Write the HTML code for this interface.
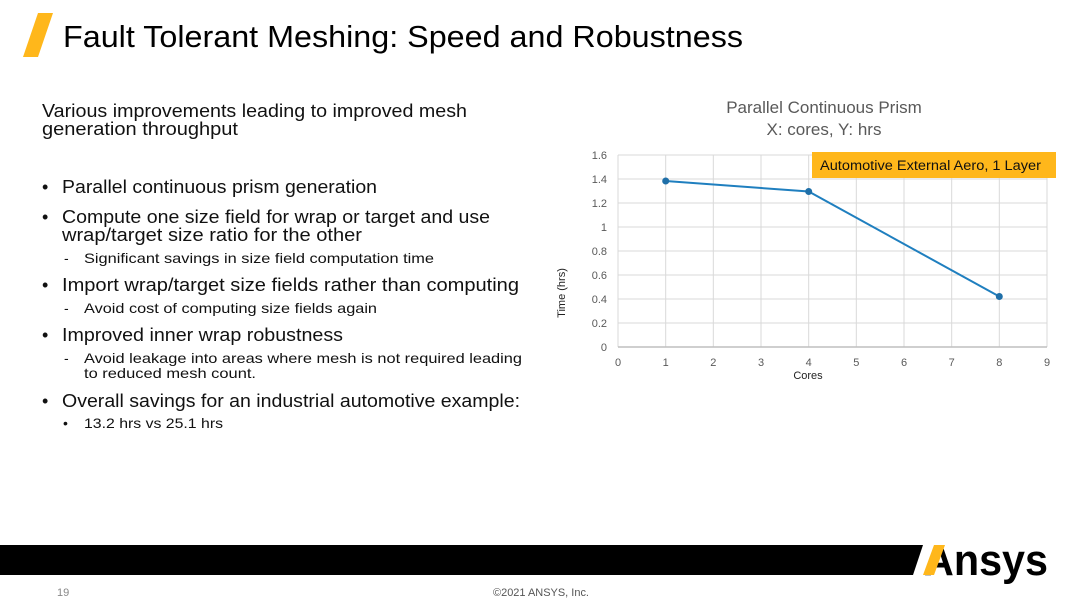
<!DOCTYPE html>
<html><head><meta charset="utf-8"><style>
html,body{margin:0;padding:0;background:#fff;}
svg{display:block;font-family:"Liberation Sans",sans-serif;}
</style></head><body>
<svg width="1080" height="608" viewBox="0 0 1080 608" xmlns="http://www.w3.org/2000/svg">
<rect width="1080" height="608" fill="#fff"/>
<polygon points="38,13 53,13 38,57 23,57" fill="#FFB71B"/>
<text x="63" y="47" font-size="31" fill="#000" textLength="680" lengthAdjust="spacingAndGlyphs">Fault Tolerant Meshing: Speed and Robustness</text>
<g fill="#111" font-size="18">
<text x="42" y="117" textLength="425" lengthAdjust="spacingAndGlyphs">Various improvements leading to improved mesh</text>
<text x="42" y="135" textLength="196" lengthAdjust="spacingAndGlyphs">generation throughput</text>
<text x="42" y="193">•</text><text x="62" y="193" textLength="315" lengthAdjust="spacingAndGlyphs">Parallel continuous prism generation</text>
<text x="42" y="223">•</text><text x="62" y="223" textLength="428" lengthAdjust="spacingAndGlyphs">Compute one size field for wrap or target and use</text>
<text x="62" y="241" textLength="300" lengthAdjust="spacingAndGlyphs">wrap/target size ratio for the other</text>
<text x="42" y="291">•</text><text x="62" y="291" textLength="457" lengthAdjust="spacingAndGlyphs">Import wrap/target size fields rather than computing</text>
<text x="42" y="341">•</text><text x="62" y="341" textLength="281" lengthAdjust="spacingAndGlyphs">Improved inner wrap robustness</text>
<text x="42" y="407">•</text><text x="62" y="407" textLength="458" lengthAdjust="spacingAndGlyphs">Overall savings for an industrial automotive example:</text>
</g>
<g fill="#111" font-size="14">
<text x="64" y="263">-</text><text x="84" y="263" textLength="350" lengthAdjust="spacingAndGlyphs">Significant savings in size field computation time</text>
<text x="64" y="313">-</text><text x="84" y="313" textLength="293" lengthAdjust="spacingAndGlyphs">Avoid cost of computing size fields again</text>
<text x="64" y="363">-</text><text x="84" y="363" textLength="438" lengthAdjust="spacingAndGlyphs">Avoid leakage into areas where mesh is not required leading</text>
<text x="84" y="378" textLength="172" lengthAdjust="spacingAndGlyphs">to reduced mesh count.</text>
<text x="63" y="428">•</text><text x="84" y="428" textLength="139" lengthAdjust="spacingAndGlyphs">13.2 hrs vs 25.1 hrs</text>
</g>
<!-- chart -->
<text x="824" y="113" font-size="17" fill="#595959" text-anchor="middle">Parallel Continuous Prism</text>
<text x="824" y="135" font-size="17" fill="#595959" text-anchor="middle">X: cores, Y: hrs</text>
<g stroke="#d9d9d9" stroke-width="1">
<line x1="618" y1="155" x2="1047" y2="155"/><line x1="618" y1="179" x2="1047" y2="179"/>
<line x1="618" y1="203" x2="1047" y2="203"/><line x1="618" y1="227" x2="1047" y2="227"/>
<line x1="618" y1="251" x2="1047" y2="251"/><line x1="618" y1="275" x2="1047" y2="275"/>
<line x1="618" y1="299" x2="1047" y2="299"/><line x1="618" y1="323" x2="1047" y2="323"/>
<line x1="618" y1="155" x2="618" y2="347"/><line x1="665.7" y1="155" x2="665.7" y2="347"/>
<line x1="713.3" y1="155" x2="713.3" y2="347"/><line x1="761" y1="155" x2="761" y2="347"/>
<line x1="808.7" y1="155" x2="808.7" y2="347"/><line x1="856.3" y1="155" x2="856.3" y2="347"/>
<line x1="904" y1="155" x2="904" y2="347"/><line x1="951.7" y1="155" x2="951.7" y2="347"/>
<line x1="999.3" y1="155" x2="999.3" y2="347"/><line x1="1047" y1="155" x2="1047" y2="347"/>
</g>
<line x1="618" y1="347" x2="1047" y2="347" stroke="#bfbfbf" stroke-width="1.5"/>
<g font-size="11" fill="#595959" text-anchor="end">
<text x="607" y="159">1.6</text><text x="607" y="183">1.4</text><text x="607" y="207">1.2</text>
<text x="607" y="231">1</text><text x="607" y="255">0.8</text><text x="607" y="279">0.6</text>
<text x="607" y="303">0.4</text><text x="607" y="327">0.2</text><text x="607" y="351">0</text>
</g>
<g font-size="11" fill="#595959" text-anchor="middle">
<text x="618" y="366">0</text><text x="665.7" y="366">1</text><text x="713.3" y="366">2</text>
<text x="761" y="366">3</text><text x="808.7" y="366">4</text><text x="856.3" y="366">5</text>
<text x="904" y="366">6</text><text x="951.7" y="366">7</text><text x="999.3" y="366">8</text>
<text x="1047" y="366">9</text>
</g>
<text x="808" y="379" font-size="11" fill="#222" text-anchor="middle">Cores</text>
<text transform="translate(565,293) rotate(-90)" font-size="11" fill="#222" text-anchor="middle">Time (hrs)</text>
<polyline points="665.7,181 808.7,191.5 999.3,296.5" fill="none" stroke="#1f7fbf" stroke-width="2"/>
<circle cx="665.7" cy="181" r="3.5" fill="#1f6fa8"/>
<circle cx="808.7" cy="191.5" r="3.5" fill="#1f6fa8"/>
<circle cx="999.3" cy="296.5" r="3.5" fill="#1f6fa8"/>
<rect x="812" y="152" width="244" height="26" fill="#FFB71B"/>
<text x="820" y="170" font-size="13.5" fill="#111" textLength="221" lengthAdjust="spacingAndGlyphs">Automotive External Aero, 1 Layer</text>
<!-- footer -->
<polygon points="0,545 923,545 913,575 0,575" fill="#000"/>
<text x="924" y="575" font-size="44" font-weight="bold" fill="#000" textLength="124" lengthAdjust="spacingAndGlyphs">Ansys</text>
<polygon points="934,545 945,545 934,575 923,575" fill="#FFB71B"/>
<text x="57" y="596" font-size="11" fill="#888">19</text>
<text x="493" y="596" font-size="11" fill="#555" textLength="96" lengthAdjust="spacingAndGlyphs">©2021 ANSYS, Inc.</text>
</svg>
</body></html>
